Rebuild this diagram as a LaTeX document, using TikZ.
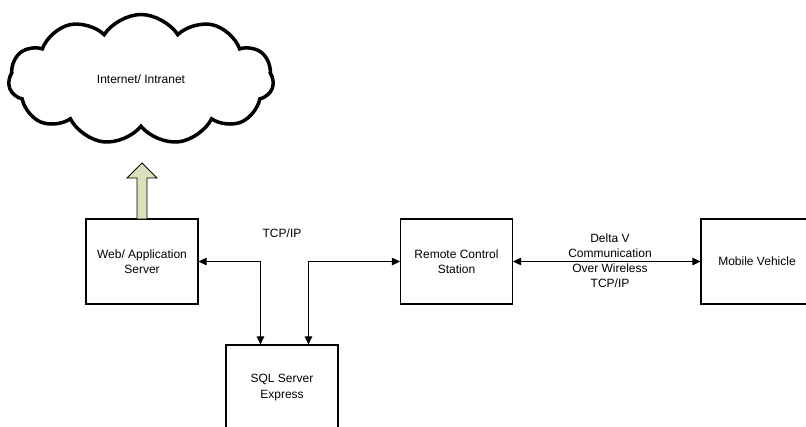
\documentclass[tikz,border=0pt]{standalone}
\usepackage{fontspec}
\setmainfont{Liberation Sans}
\usetikzlibrary{shapes.symbols,arrows.meta,calc}
\begin{document}
\begin{tikzpicture}[x=1pt,y=-1pt,
  box/.style={draw,line width=1.1pt,minimum width=112pt,minimum height=85pt,inner sep=0pt,align=center,font=\fontsize{12}{15.5}\selectfont},
  lbl/.style={align=center,font=\fontsize{12}{15}\selectfont,inner sep=0pt},
  conn/.style={line width=0.9pt,{Triangle[length=8pt,width=7.5pt]}-{Triangle[length=8pt,width=7.5pt]}}]
\useasboundingbox (0,0) rectangle (806,426);
\clip (0,0) rectangle (806,426);
\node[cloud,draw,line width=3.5pt,cloud puffs=11,cloud puff arc=115,aspect=2,minimum width=265pt,minimum height=130pt,font=\fontsize{12}{15}\selectfont] (cloud) at (141,79.5) {Internet/ Intranet};
\node[box] (web) at (142,261.5) {Web/ Application\\Server};
\node[box] (rcs) at (456.5,261.5) {Remote Control\\Station};
\node[box] (sql) at (282,387.5) {SQL Server\\Express};
\node[box] (mob) at (757,261.5) {Mobile Vehicle};
\coordinate (s1) at ($(sql.north west)+(35,0)$);
\coordinate (s2) at ($(sql.north west)+(83,0)$);
\draw[conn] (web.east) -| (s1);
\draw[conn] (s2) |- (rcs.west);
\draw[conn] (rcs.east) -- (mob.west);
\node[lbl] (tcp) at (282,233) {TCP/IP};
\node[lbl] (delta) at (610,260.5) {Delta V\\Communication\\Over Wireless\\TCP/IP};
\draw[line width=0.8pt,fill={rgb,255:red,215;green,226;blue,186}] (137,219) -- (137,178) -- (127,178) -- (142,163) -- (157,178) -- (147,178) -- (147,219) -- cycle;
\end{tikzpicture}
\end{document}
